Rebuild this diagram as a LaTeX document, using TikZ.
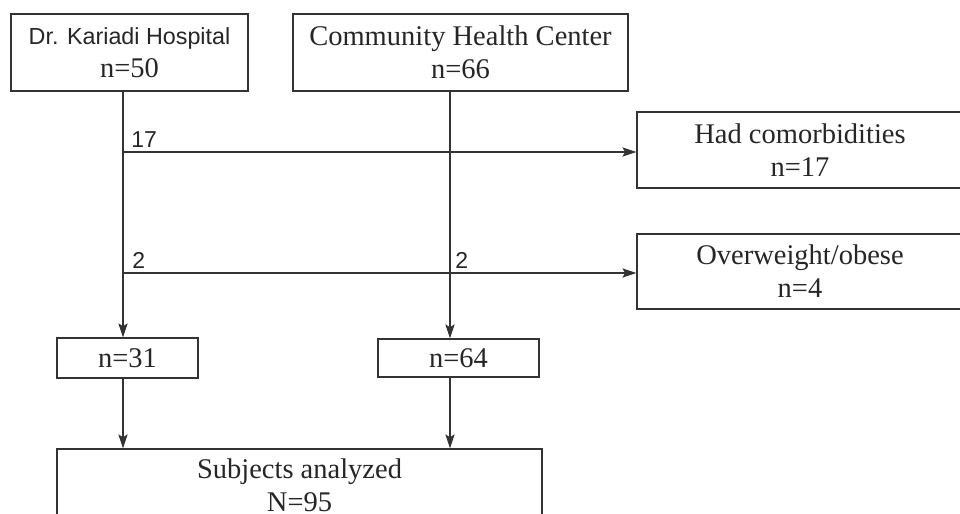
\documentclass[tikz,border=0pt]{standalone}
\usepackage{fontspec}
\setmainfont{Liberation Serif}
\newfontfamily\arialfont{Liberation Sans}
\usetikzlibrary{arrows.meta}

\begin{document}
\begin{tikzpicture}[x=0.5pt,y=-0.5pt,
    box/.style={draw=black!80, line width=0.6pt, inner sep=0pt, align=center, text=black!85,
      font=\fontsize{14.25}{16.5}\selectfont},
    arr/.style={draw=black!80, line width=0.6pt, -{Stealth[length=7pt,width=4.6pt,inset=1.4pt]}},
    num/.style={font=\arialfont\fontsize{11.5}{13}\selectfont, text=black!85, inner sep=0pt, anchor=south west}]

    % page size
    \useasboundingbox (0,0) rectangle (960,514);
    \clip (0,0) rectangle (960,514);

    % sources
    \node[box, minimum width=118.5pt, minimum height=38.5pt] (kariadi) at (129.5,52.5)
      {{\arialfont\fontsize{11.65}{16.5}\selectfont Dr. Kariadi Hospital}\\n=50};
    \node[box, minimum width=167.5pt, minimum height=38.5pt] (center) at (460.5,52.5)
      {Community Health Center\\n=66};

    % excluded
    \node[box, minimum width=163pt, minimum height=38pt] (comorb) at (800,150)
      {Had comorbidities\\n=17};
    \node[box, minimum width=163pt, minimum height=37.5pt] (obese) at (800,271.5)
      {Overweight/obese\\n=4};

    % remaining and total
    \node[box, minimum width=70.5pt, minimum height=20pt] (n31) at (127.5,358) {n=31};
    \node[box, minimum width=80.5pt, minimum height=19pt] (n64) at (458.5,358) {n=64};
    \node[box, minimum width=242.5pt, minimum height=36.5pt] (subj) at (299.5,485.5)
      {Subjects analyzed\\N=95};

    % junctions
    \coordinate (left17) at (123,152);
    \coordinate (left2) at (123,273);
    \coordinate (mid2) at (450,273);

    %draw arrows
    \draw[arr] (left17 |- kariadi.south) -- (left17 |- n31.north);
    \draw[arr] (mid2 |- center.south) -- (mid2 |- n64.north);
    \draw[arr] (left17) -- (left17 -| comorb.west);
    \draw[arr] (left2) -- (left2 -| obese.west);
    \draw[arr] (left17 |- n31.south) -- (left17 |- subj.north);
    \draw[arr] (mid2 |- n64.south) -- (mid2 |- subj.north);

    % counts
    \node[num] (lab17) at (131,148) {17};
    \node[num] (lab2a) at (132,269) {2};
    \node[num] (lab2b) at (455,269) {2};

\end{tikzpicture}
\end{document}
